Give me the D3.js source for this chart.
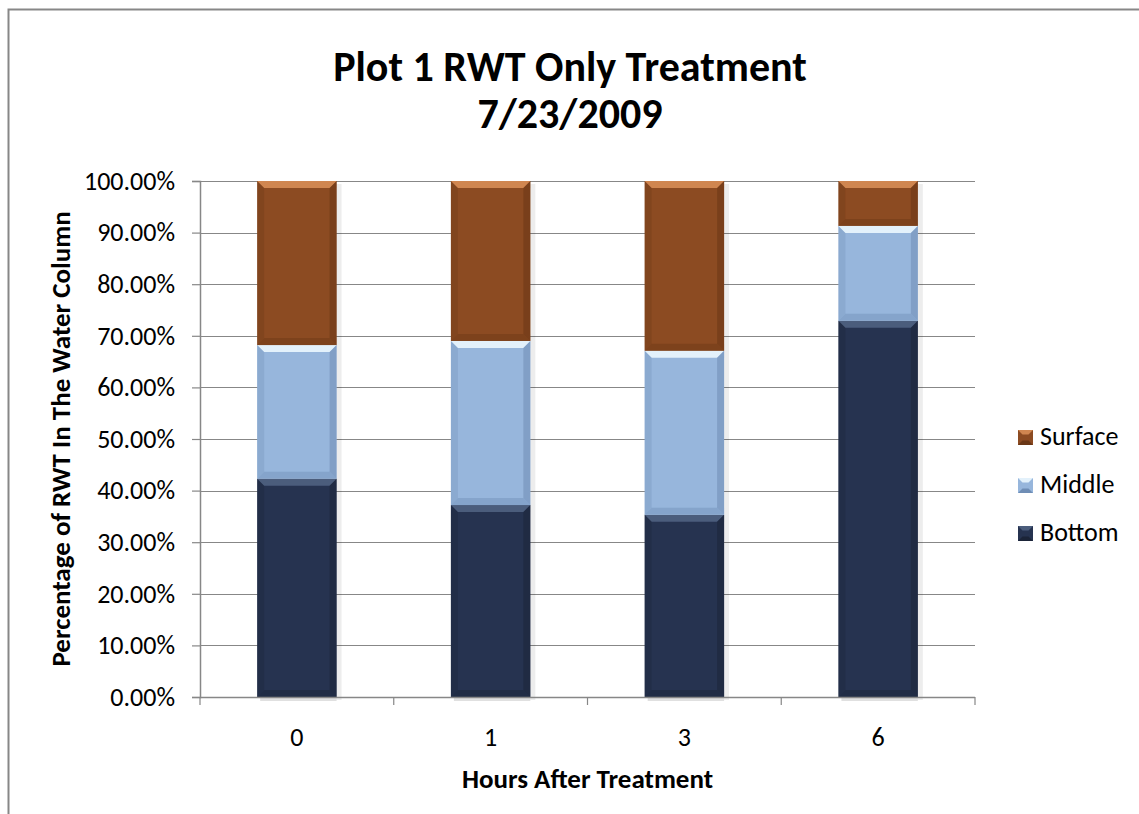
<!DOCTYPE html>
<html>
<head>
<meta charset="utf-8">
<script src="https://cdn.jsdelivr.net/npm/d3@7"></script>
<style>
body { margin: 0; background: #fff; }
text { font-family: Carlito, Calibri, Lato, "Open Sans", sans-serif; fill: #000; }
</style>
</head>
<body>
<div id="chart"></div>
<script>
// hours after treatment
var hours = ["0", "1", "3", "6"];
// percentages, stacked from bottom up
var bottomVals = [42.3, 37.2, 35.3, 72.9];
var middleVals = [25.9, 31.8, 31.8, 18.4];
var surfaceVals = [31.8, 31.0, 32.9, 8.7];
var yTicks = [0, 10, 20, 30, 40, 50, 60, 70, 80, 90, 100];

var width = 1139, height = 814;
var plot = {left: 200, right: 975, top: 181, bottom: 697};

var series = [
	{name: "Bottom", vals: bottomVals, fill: "#263350", light: "#4b5d7c", dark: "#1b2438"},
	{name: "Middle", vals: middleVals, fill: "#97b6dc", light: "#e3f1fb", dark: "#6f8db5"},
	{name: "Surface", vals: surfaceVals, fill: "#8c4b22", light: "#d08650", dark: "#6a3716"}
];

var svg = d3.select("#chart").append("svg")
	.attr("width", width)
	.attr("height", height);

// outer chart border (only top and left visible in the crop)
svg.append("path")
	.attr("d", "M8.5," + height + "V9.5H" + width)
	.attr("fill", "none")
	.attr("stroke", "#878787")
	.attr("stroke-width", 2);

var x = d3.scaleBand().domain(hours).range([plot.left, plot.right]);
var y = d3.scaleLinear().domain([0, 100]).range([plot.bottom, plot.top]);
var barW = x.bandwidth() * 0.41;

// gridlines
svg.append("g").selectAll("line")
	.data(yTicks.slice(1)).enter()
	.append("line")
	.attr("x1", plot.left).attr("x2", plot.right)
	.attr("y1", function(d){ return Math.round(y(d)) + 0.5; })
	.attr("y2", function(d){ return Math.round(y(d)) + 0.5; })
	.attr("stroke", "#878787").attr("stroke-width", 1.2);

// stack the values
var stacked = hours.map(function(h, i){
	var base = 0, segs = [];
	series.forEach(function(s){
		segs.push({s: s, y0: base, y1: base + s.vals[i]});
		base += s.vals[i];
	});
	return {h: h, segs: segs};
});

var bars = svg.append("g").selectAll("g")
	.data(stacked).enter()
	.append("g")
	.attr("transform", function(d){ return "translate(" + (x(d.h) + (x.bandwidth() - barW) / 2) + ",0)"; });

// soft shadow to the right and below
bars.append("rect")
	.attr("x", barW)
	.attr("y", function(d){ return y(100) + 3; })
	.attr("width", 5)
	.attr("height", function(d){ return y(0) - y(100); })
	.attr("fill", "#000").attr("opacity", 0.07);
bars.append("rect")
	.attr("x", 3)
	.attr("y", y(0))
	.attr("width", barW - 3)
	.attr("height", 4)
	.attr("fill", "#000").attr("opacity", 0.12);

var segs = bars.selectAll(".seg")
	.data(function(d){ return d.segs; }).enter()
	.append("g").attr("class", "seg");

var bev = 7;
segs.each(function(d){
	var g = d3.select(this);
	var top = y(d.y1), bot = y(d.y0), h = bot - top;
	var b = Math.min(bev, h / 2);
	g.append("rect")
		.attr("x", 0).attr("y", top).attr("width", barW).attr("height", h)
		.attr("fill", d.s.fill);
	// top bevel
	g.append("path")
		.attr("d", "M0," + top + "H" + barW + "L" + (barW - b) + "," + (top + b) + "H" + b + "Z")
		.attr("fill", d.s.light);
	// left bevel
	g.append("path")
		.attr("d", "M0," + top + "L" + b + "," + (top + b) + "V" + (bot - b) + "L0," + bot + "Z")
		.attr("fill", d.s.dark).attr("opacity", 0.3);
	// right bevel
	g.append("path")
		.attr("d", "M" + barW + "," + top + "L" + (barW - b) + "," + (top + b) + "V" + (bot - b) + "L" + barW + "," + bot + "Z")
		.attr("fill", d.s.dark).attr("opacity", 0.55);
	// bottom bevel
	g.append("path")
		.attr("d", "M0," + bot + "L" + b + "," + (bot - b) + "H" + (barW - b) + "L" + barW + "," + bot + "Z")
		.attr("fill", d.s.dark).attr("opacity", 0.45);
});

// axes
var yAxis = svg.append("g")
	.attr("transform", "translate(" + plot.left + ",0)")
	.call(d3.axisLeft(y).tickValues(yTicks).tickSize(8).tickPadding(17)
		.tickFormat(function(d){ return d.toFixed(2) + "%"; }));
yAxis.select(".domain").attr("stroke", "#878787").attr("stroke-width", 1.5);
yAxis.selectAll(".tick line").attr("stroke", "#878787").attr("stroke-width", 1.2);
yAxis.selectAll("text").attr("font-size", 26).attr("fill", "#000")
	.style("font-family", "Carlito, Calibri, Lato, sans-serif");

var xAxis = svg.append("g")
	.attr("transform", "translate(0," + plot.bottom + ")");
xAxis.append("line")
	.attr("x1", plot.left).attr("x2", plot.right)
	.attr("y1", 0.5).attr("y2", 0.5)
	.attr("stroke", "#878787").attr("stroke-width", 1.5);
xAxis.selectAll(".tk")
	.data(d3.range(hours.length + 1)).enter()
	.append("line")
	.attr("x1", function(i){ return plot.left + i * x.step(); })
	.attr("x2", function(i){ return plot.left + i * x.step(); })
	.attr("y1", 0).attr("y2", 8)
	.attr("stroke", "#878787").attr("stroke-width", 1.2);
xAxis.selectAll(".lbl")
	.data(hours).enter()
	.append("text")
	.attr("x", function(d){ return x(d) + x.bandwidth() / 2; })
	.attr("y", 49)
	.attr("text-anchor", "middle")
	.attr("font-size", 26)
	.text(function(d){ return d; });

// titles
var title = svg.append("text")
	.attr("x", 570).attr("text-anchor", "middle")
	.attr("font-size", 42).attr("font-weight", "bold");
title.append("tspan").attr("x", 570).attr("y", 81).text("Plot 1 RWT Only Treatment");
title.append("tspan").attr("x", 570).attr("y", 128).text("7/23/2009");

svg.append("text")
	.attr("x", (plot.left + plot.right) / 2).attr("y", 788)
	.attr("text-anchor", "middle")
	.attr("font-size", 27).attr("font-weight", "bold")
	.text("Hours After Treatment");

svg.append("text")
	.attr("transform", "translate(70," + ((plot.top + plot.bottom) / 2) + ") rotate(-90)")
	.attr("text-anchor", "middle")
	.attr("font-size", 27).attr("font-weight", "bold")
	.text("Percentage of RWT In The Water Column");

// legend, top entry is Surface
var legend = svg.append("g").selectAll("g")
	.data(series.slice().reverse()).enter()
	.append("g")
	.attr("transform", function(d, i){ return "translate(1018," + (430 + i * 48) + ")"; });
legend.append("rect")
	.attr("width", 15).attr("height", 15)
	.attr("fill", function(d){ return d.fill; });
legend.append("path")
	.attr("d", "M0,0H15L10.5,4.5H4.5Z")
	.attr("fill", function(d){ return d.light; });
legend.append("path")
	.attr("d", "M0,15H15L10.5,10.5H4.5Z")
	.attr("fill", function(d){ return d.dark; });
legend.append("text")
	.attr("x", 22).attr("y", 15)
	.attr("font-size", 26)
	.text(function(d){ return d.name; });
</script>
</body>
</html>
